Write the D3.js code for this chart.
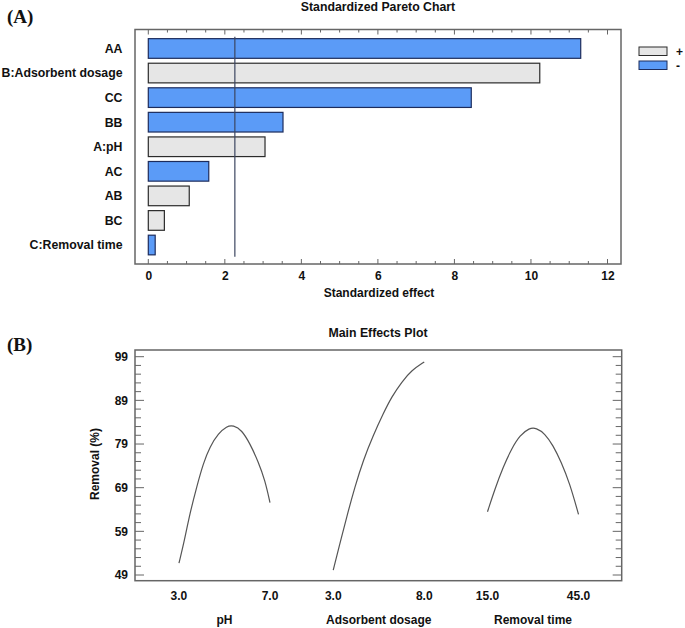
<!DOCTYPE html>
<html>
<head>
<meta charset="utf-8">
<script src="https://cdn.jsdelivr.net/npm/d3@7"></script>
<style>
	body{margin:0;background:#fff;}
	svg{display:block;}
	text{font-family:"Liberation Sans",Arial,sans-serif;font-weight:bold;fill:#111;}
	.panel-tag{font-family:"Liberation Serif","Times New Roman",serif;font-size:19px;}
</style>
</head>
<body>
<script>
//Pareto chart data (A)
const effectTerms = ["AA","B:Adsorbent dosage","CC","BB","A:pH","AC","AB","BC","C:Removal time"];
const effectValues = [11.30,10.23,8.44,3.52,3.05,1.58,1.07,0.42,0.18];
const effectSigns = ["-","+","-","-","+","-","+","+","-"];
const tCritical = 2.262;
const paretoTicks = [0,2,4,6,8,10,12];

//Main effects data (B)
const factorNames = ["pH","Adsorbent dosage","Removal time"];
const factorLow = [3.0,3.0,15.0];
const factorHigh = [7.0,8.0,45.0];
const phLevels = [3.0,3.26,3.48,3.78,4.07,4.36,4.73,5.10,5.39,5.76,6.12,6.49,6.78,7.0];
const phRemoval = [51.7,57.4,63.1,69.2,74.6,78.4,81.4,83.1,83.3,82.2,79.1,74.9,70.7,65.6];
const dosageLevels = [3.0,3.37,3.74,4.19,4.65,5.20,5.75,6.21,6.76,7.31,8.0];
const dosageRemoval = [50.1,56.3,62.3,69.2,75.3,81.0,86.0,89.8,93.2,95.9,97.8];
const timeLevels = [15.0,17.5,20.2,23.0,25.7,28.8,31.1,33.9,36.6,39.3,42.1,45.0];
const timeRemoval = [63.5,68.8,73.8,78.0,81.0,82.7,82.7,81.4,78.7,74.9,70.0,62.9];
const removalTicks = [49,59,69,79,89,99];

const W = 685, H = 628;
const frameColor = '#666';
const blue = '#5b9bf7', gray = '#e6e6e6';

const svg = d3.select('body').append('svg')
	.attr('width',W)
	.attr('height',H);

//---------- (A) Standardized Pareto Chart ----------
const a = {l:135,r:621,t:29.5,b:264};
const scaleX = d3.scaleLinear().domain([0,12]).range([148.3,607.5]);
const scaleY = d3.scaleBand().domain(effectTerms).range([36.2,257.3]).paddingInner(0.2).paddingOuter(0.1);

svg.append('text').attr('class','panel-tag').attr('x',7).attr('y',23).text('(A)');
svg.append('text')
	.attr('x',(a.l+a.r)/2).attr('y',11)
	.attr('text-anchor','middle')
	.style('font-size','12.3px')
	.text('Standardized Pareto Chart');

const paretoData = effectTerms.map((d,i) => ({term:d, value:effectValues[i], sign:effectSigns[i]}));

svg.selectAll('.bar')
	.data(paretoData)
	.enter().append('rect')
	.attr('class','bar')
	.attr('x', scaleX(0))
	.attr('y', d => scaleY(d.term))
	.attr('width', d => scaleX(d.value) - scaleX(0))
	.attr('height', scaleY.bandwidth())
	.style('fill', d => d.sign === '+' ? gray : blue)
	.style('stroke', d => d.sign === '+' ? '#2b2b2b' : '#1d2c5c')
	.style('stroke-width',1.2);

//threshold line
svg.append('line')
	.attr('x1',scaleX(tCritical)).attr('x2',scaleX(tCritical))
	.attr('y1',36.7).attr('y2',256.7)
	.style('stroke','#3c4660')
	.style('stroke-width',1.2);

//term labels
svg.selectAll('.term')
	.data(effectTerms)
	.enter().append('text')
	.attr('class','term')
	.attr('x',122.5)
	.attr('y', d => scaleY(d) + scaleY.bandwidth()/2)
	.attr('dy','0.36em')
	.attr('text-anchor','end')
	.style('font-size','12.3px')
	.text(d => d);

//ticks, top and bottom, pointing in
const minorTicks = d3.range(0,12.01,0.5);
[[a.t,1],[a.b,-1]].forEach(([y0,dir]) => {
	svg.append('g').selectAll('line')
		.data(minorTicks)
		.enter().append('line')
		.attr('x1', d => scaleX(d)).attr('x2', d => scaleX(d))
		.attr('y1', y0).attr('y2', d => y0 + dir*(d % 2 === 0 ? 5 : 3))
		.style('stroke',frameColor)
		.style('stroke-width',1);
});

const axisX = d3.axisBottom(scaleX)
	.tickValues(paretoTicks)
	.tickSize(0)
	.tickPadding(7)
	.tickFormat(d3.format('d'));
const axisXNode = svg.append('g')
	.attr('transform',`translate(0,${a.b})`)
	.call(axisX);
axisXNode.select('.domain').remove();
axisXNode.selectAll('text').style('font-size','12px').attr('font-family',null);

svg.append('text')
	.attr('x',379).attr('y',297)
	.attr('text-anchor','middle')
	.style('font-size','12px')
	.text('Standardized effect');

svg.append('rect')
	.attr('x',a.l).attr('y',a.t)
	.attr('width',a.r-a.l).attr('height',a.b-a.t)
	.style('fill','none')
	.style('stroke',frameColor)
	.style('stroke-width',1.5);

//legend
const legend = svg.append('g').selectAll('g')
	.data(['+','-'])
	.enter().append('g')
	.attr('transform',(d,i) => `translate(639,${47 + i*14})`);
legend.append('rect')
	.attr('width',28).attr('height',8.5)
	.style('fill', d => d === '+' ? gray : blue)
	.style('stroke', d => d === '+' ? '#2b2b2b' : '#1d2c5c')
	.style('stroke-width',1);
legend.append('text')
	.attr('x',37).attr('y',4.5).attr('dy','0.36em')
	.style('font-size','12px')
	.text(d => d);

//---------- (B) Main Effects Plot ----------
const b = {l:135,r:621.7,t:350,b:580.7};
const slotX = d3.scaleLinear().domain([-0.285,2.87]).range([b.l,b.r]);
const slotWidth = 0.59;
const scaleR = d3.scaleLinear().domain([49,99]).range([575,356.7]);

svg.append('text').attr('class','panel-tag').attr('x',7).attr('y',351).text('(B)');
svg.append('text')
	.attr('x',378).attr('y',337)
	.attr('text-anchor','middle')
	.style('font-size','12.3px')
	.text('Main Effects Plot');

const series = [
	{levels:phLevels, removal:phRemoval},
	{levels:dosageLevels, removal:dosageRemoval},
	{levels:timeLevels, removal:timeRemoval}
];

series.forEach((s,i) => {
	const fx = d3.scaleLinear()
		.domain([factorLow[i],factorHigh[i]])
		.range([slotX(i),slotX(i+slotWidth)]);
	const line = d3.line()
		.x(d => fx(d[0]))
		.y(d => scaleR(d[1]))
		.curve(d3.curveBasis);
	svg.append('path')
		.datum(s.levels.map((v,j) => [v,s.removal[j]]))
		.attr('d',line)
		.style('fill','none')
		.style('stroke','#555')
		.style('stroke-width',1.2);

	//level labels
	svg.selectAll(null)
		.data([factorLow[i],factorHigh[i]])
		.enter().append('text')
		.attr('x', d => fx(d))
		.attr('y',600)
		.attr('text-anchor','middle')
		.style('font-size','12px')
		.text(d => d3.format('.1f')(d));

	svg.append('text')
		.attr('x',(fx.range()[0]+fx.range()[1])/2)
		.attr('y',624)
		.attr('text-anchor','middle')
		.style('font-size','12px')
		.text(factorNames[i]);
});

//y ticks on both sides, pointing in
const rMinor = d3.range(49,99.01,2);
[[b.l,1],[b.r,-1]].forEach(([x0,dir]) => {
	svg.append('g').selectAll('line')
		.data(rMinor)
		.enter().append('line')
		.attr('y1', d => scaleR(d)).attr('y2', d => scaleR(d))
		.attr('x1', x0).attr('x2', d => x0 + dir*((d-49) % 10 === 0 ? 9 : 6))
		.style('stroke',frameColor)
		.style('stroke-width',1);
});

const axisR = d3.axisLeft(scaleR)
	.tickValues(removalTicks)
	.tickSize(0)
	.tickPadding(7)
	.tickFormat(d3.format('d'));
const axisRNode = svg.append('g')
	.attr('transform',`translate(${b.l},0)`)
	.call(axisR);
axisRNode.select('.domain').remove();
axisRNode.selectAll('text').style('font-size','12px').attr('font-family',null);

svg.append('text')
	.attr('transform','translate(99,464) rotate(-90)')
	.attr('text-anchor','middle')
	.style('font-size','12px')
	.text('Removal (%)');

svg.append('rect')
	.attr('x',b.l).attr('y',b.t)
	.attr('width',b.r-b.l).attr('height',b.b-b.t)
	.style('fill','none')
	.style('stroke',frameColor)
	.style('stroke-width',1.5);
</script>
</body>
</html>
